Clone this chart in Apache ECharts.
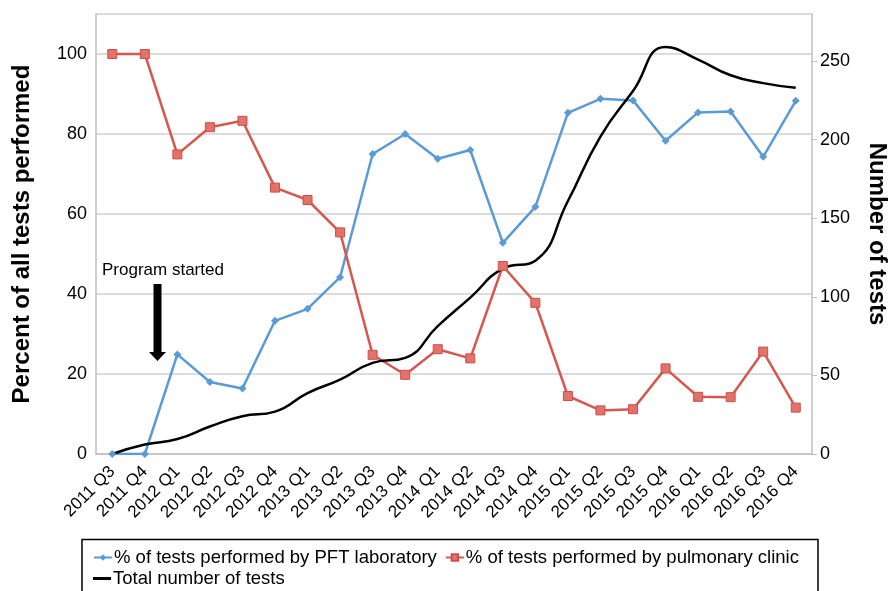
<!DOCTYPE html>
<html>
<head>
<meta charset="utf-8">
<script src="https://cdn.jsdelivr.net/npm/echarts@6/dist/echarts.min.js"></script>
<style>
html,body{margin:0;padding:0;background:#fff;overflow:hidden;}
#chart{width:889px;height:591px;}
</style>
</head>
<body>
<div id="chart"></div>
<script>
var categories = ['2011 Q3','2011 Q4','2012 Q1','2012 Q2','2012 Q3','2012 Q4','2013 Q1','2013 Q2','2013 Q3','2013 Q4','2014 Q1','2014 Q2','2014 Q3','2014 Q4','2015 Q1','2015 Q2','2015 Q3','2015 Q4','2016 Q1','2016 Q2','2016 Q3','2016 Q4'];
var pftLab = [0, 0, 24.9, 18, 16.4, 33.3, 36.3, 44.2, 75, 80, 73.8, 76, 52.8, 61.8, 85.3, 88.8, 88.4, 78.3, 85.4, 85.6, 74.3, 88.3];
var pulmClinic = [100, 100, 74.9, 81.7, 83.3, 66.6, 63.5, 55.4, 24.8, 19.8, 26.2, 23.9, 47, 37.8, 14.5, 10.9, 11.2, 21.4, 14.3, 14.2, 25.6, 11.6];
var totalTests = [0, 6, 9.5, 17.5, 24, 27, 38.8, 47.3, 58, 61.2, 81.4, 99.5, 118, 123, 161, 202, 231, 259, 251, 241, 236, 233];
var leftTicks = {min: 0, max: 110, interval: 20};
var rightTicks = {min: 0, max: 280, interval: 50};

var FONT = "'Liberation Sans', Arial, sans-serif";
var NAME_PFT = '% of tests performed by PFT laboratory';
var NAME_CLINIC = '% of tests performed by pulmonary clinic';
var NAME_TOTAL = 'Total number of tests';
var legendText = {fontFamily: FONT, fontSize: 18.5, color: '#000', padding: [0, 0, 0, -3]};

var chart = echarts.init(document.getElementById('chart'), null, {renderer: 'canvas'});
chart.setOption({
  animation: false,
  backgroundColor: '#fff',
  grid: {left: 96, right: 77, top: 14, bottom: 137, containLabel: false, outerBoundsMode: 'none'},
  legend: [{
    left: 88, top: 543, itemWidth: 18, itemHeight: 8, itemGap: 8,
    textStyle: legendText,
    data: [NAME_PFT, NAME_CLINIC]
  }, {
    left: 88, top: 564, itemWidth: 18, itemHeight: 8,
    textStyle: legendText,
    data: [{name: NAME_TOTAL, icon: 'path://M0,0h18v3h-18z'}]
  }],
  xAxis: {
    type: 'category', data: categories, boundaryGap: true,
    axisLine: {show: true, lineStyle: {color: '#bfbfbf', width: 1.5}},
    axisTick: {show: false},
    axisLabel: {rotate: 45, fontFamily: FONT, fontSize: 17, color: '#000', margin: 15, interval: 0},
    splitLine: {show: false}
  },
  yAxis: [{
    type: 'value', min: leftTicks.min, max: leftTicks.max, interval: leftTicks.interval,
    name: 'Percent of all tests performed', nameLocation: 'middle', nameGap: 62, nameRotate: 90,
    nameTextStyle: {fontFamily: FONT, fontSize: 24, fontWeight: 'bold', color: '#000'},
    axisLine: {show: true, lineStyle: {color: '#bfbfbf', width: 1.5}},
    axisTick: {show: false},
    axisLabel: {fontFamily: FONT, fontSize: 18, color: '#000', margin: 9, showMaxLabel: false},
    splitLine: {show: true, lineStyle: {color: '#d0d0d0', width: 1.5}}
  }, {
    type: 'value', position: 'right', min: rightTicks.min, max: rightTicks.max, interval: rightTicks.interval,
    name: 'Number of tests', nameLocation: 'middle', nameGap: 53, nameRotate: -90,
    nameTextStyle: {fontFamily: FONT, fontSize: 24, fontWeight: 'bold', color: '#000'},
    axisLine: {show: true, lineStyle: {color: '#bfbfbf', width: 1.5}},
    axisTick: {show: true, length: 5, lineStyle: {color: '#bfbfbf'}},
    axisLabel: {fontFamily: FONT, fontSize: 18, color: '#000', margin: 8, showMaxLabel: false},
    splitLine: {show: false}
  }],
  series: [{
    name: NAME_PFT, type: 'line', yAxisIndex: 0, data: pftLab,
    symbol: 'diamond', symbolSize: 8,
    lineStyle: {color: '#5b9bd5', width: 2.5},
    itemStyle: {color: '#5b9bd5'}
  }, {
    name: NAME_CLINIC, type: 'line', yAxisIndex: 0, data: pulmClinic,
    symbol: 'rect', symbolSize: 9,
    lineStyle: {color: '#d4584f', width: 2.5},
    itemStyle: {color: '#e5716b', borderColor: '#c9504a', borderWidth: 1}
  }, {
    name: NAME_TOTAL, type: 'line', yAxisIndex: 1, data: totalTests,
    smooth: true, symbol: 'none',
    lineStyle: {color: '#000', width: 2.5},
    itemStyle: {color: '#000'}
  }],
  graphic: [{
    type: 'text', left: 102, top: 262, z: 100,
    style: {text: 'Program started', fontFamily: FONT, fontSize: 17, fill: '#000'}
  }, {
    type: 'polygon', z: 100,
    shape: {points: [[153.5,284],[161.5,284],[161.5,352],[166,352],[157.5,361],[149,352],[153.5,352]]},
    style: {fill: '#000'}
  }, {
    type: 'rect', z: 100,
    shape: {x: 82, y: 539.5, width: 736, height: 60},
    style: {fill: 'none', stroke: '#000', lineWidth: 1.5}
  }]
});
</script>
</body>
</html>
